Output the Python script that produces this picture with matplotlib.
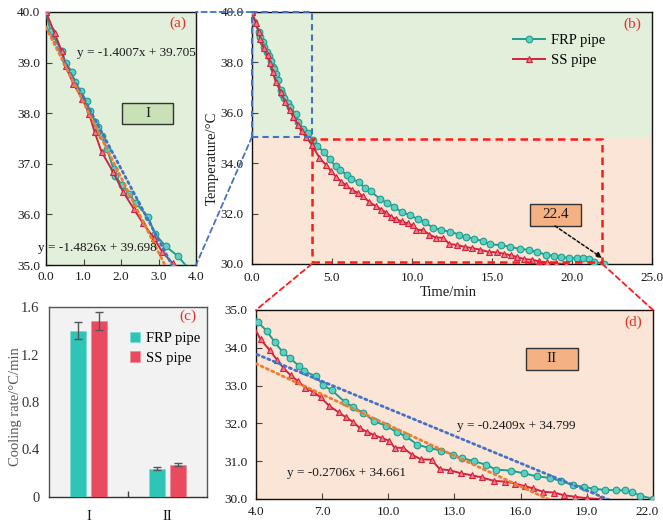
import matplotlib
matplotlib.use("Agg")
import matplotlib.pyplot as plt
from matplotlib.patches import Rectangle, ConnectionPatch
from matplotlib.transforms import ScaledTranslation
import numpy as np

plt.rcParams['font.family'] = ['Liberation Serif', 'DejaVu Serif']
plt.rcParams['mathtext.fontset'] = 'stix'

# ---------------- data ----------------
frp_time = [0.00, 0.12, 0.43, 0.52, 0.69, 0.76, 0.93, 1.08, 1.16, 1.31, 1.38, 1.49,
            1.62, 1.80, 1.85, 2.03, 2.22, 2.40, 2.73, 2.90, 3.19, 3.51, 3.80,
            4.09, 4.48, 4.85, 5.22, 5.53, 5.95, 6.18, 6.71, 7.04, 7.43, 8.02, 8.41,
            8.86, 9.35, 9.88, 10.38, 10.79, 11.31, 11.84, 12.40, 12.94, 13.35, 13.88,
            14.41, 14.87, 15.55, 16.15, 16.72, 17.33, 17.84, 18.37, 18.87, 19.32,
            19.81, 20.34, 20.71, 21.06, 21.39, 21.98]
frp_temp = [40.00, 39.62, 39.22, 38.99, 38.82, 38.62, 38.43, 38.24, 38.05, 37.83, 37.72, 37.55,
            37.30, 36.90, 36.75, 36.58, 36.40, 36.22, 35.94, 35.62, 35.37, 35.18, 34.93,
            34.68, 34.45, 34.15, 33.88, 33.73, 33.52, 33.38, 33.25, 33.01, 32.88, 32.57, 32.43,
            32.28, 32.06, 31.94, 31.77, 31.66, 31.44, 31.35, 31.28, 31.17, 31.08, 31.00,
            30.91, 30.78, 30.75, 30.68, 30.60, 30.56, 30.47, 30.37, 30.32, 30.27,
            30.24, 30.23, 30.23, 30.19, 30.09, 30.01]

ss_time = [0.00, 0.23, 0.42, 0.52, 0.73, 0.97, 1.15, 1.30, 1.48, 1.79, 2.06, 2.35,
           2.58, 2.88, 3.10, 3.38, 3.75,
           4.21, 4.63, 4.94, 5.24, 5.57, 5.90, 6.24, 6.60, 6.93, 7.31, 7.75, 8.08,
           8.40, 8.70, 9.02, 9.35, 9.72, 10.05, 10.28, 10.68, 11.08, 11.48, 11.96,
           12.33, 12.79, 13.29, 13.78, 14.23, 14.79, 15.29, 15.74, 16.19, 16.57,
           17.02, 17.51, 17.96, 18.46, 18.99, 19.60]
ss_temp = [40.00, 39.58, 39.22, 38.93, 38.58, 38.28, 37.99, 37.62, 37.24, 36.84, 36.44, 36.10,
           35.83, 35.53, 35.26, 35.03, 34.72,
           34.22, 33.93, 33.69, 33.47, 33.27, 33.12, 32.94, 32.83, 32.69, 32.47, 32.29, 32.16,
           32.04, 31.88, 31.78, 31.69, 31.61, 31.54, 31.36, 31.35, 31.17, 31.05, 31.04,
           30.79, 30.76, 30.68, 30.63, 30.57, 30.48, 30.46, 30.41, 30.34, 30.28,
           30.19, 30.17, 30.10, 30.06, 30.02, 30.00]

series_names = ["FRP pipe", "SS pipe"]
stage_labels = ["I", "II"]
rate_frp = [1.40, 0.239]
rate_frp_err = [0.072, 0.013]
rate_ss = [1.482, 0.272]
rate_ss_err = [0.075, 0.011]

fit_I_frp = (-1.4007, 39.705)
fit_I_ss = (-1.4826, 39.698)
fit_II_frp = (-0.2409, 34.799)
fit_II_ss = (-0.2706, 34.661)
end_time_label = "22.4"

# ---------------- style ----------------
FRP_LINE = '#1F9E8E'
FRP_MFC = '#5ED0C2'
SS_LINE = '#D2243C'
SS_MFC = '#EC7A88'
BAR_FRP = '#2EC4B6'
BAR_SS = '#E84A5F'
GREEN_BG = '#E2EFDA'
PEACH_BG = '#FBE5D6'
TREND_BLUE = '#4472C4'
TREND_ORANGE = '#ED7D31'
TXT = '#1a1a1a'
FS = 9.5

W, H = 663, 525
fig = plt.figure(figsize=(W / 100, H / 100), dpi=100)


def px_axes(l, t, r, b):
    return fig.add_axes([l / W, 1 - b / H, (r - l) / W, (b - t) / H])


def draw_series(ax, label=True):
    ax.plot(frp_time, frp_temp, color=FRP_LINE, lw=1.4, marker='o', ms=4.8,
            mfc=FRP_MFC, mec=FRP_LINE, mew=0.8, label=series_names[0] if label else None,
            zorder=3)
    ax.plot(ss_time, ss_temp, color=SS_LINE, lw=1.4, marker='^', ms=5.0,
            mfc=SS_MFC, mec=SS_LINE, mew=0.8, label=series_names[1] if label else None,
            zorder=4)


def trend(ax, coef, x0, x1, color):
    xs = np.array([x0, x1])
    ax.plot(xs, coef[0] * xs + coef[1], color=color, lw=2.0,
            linestyle=(0, (0.8, 1.3)), zorder=5, dash_capstyle='round')


def style_ticks(ax, padx=4, pady=5):
    ax.tick_params(axis='both', direction='in', length=4, width=0.8, colors='#444',
                   labelcolor=TXT, labelsize=FS)
    ax.tick_params(axis='y', pad=pady)
    ax.tick_params(axis='x', pad=padx)
    for s in ax.spines.values():
        s.set_color('#111')
        s.set_linewidth(1.0)


# ---------------- panel (a) ----------------
axa = px_axes(46, 12, 196, 265)
axa.set_facecolor(GREEN_BG)
draw_series(axa, label=False)
trend(axa, fit_I_frp, 0, 3.8, TREND_BLUE)
trend(axa, fit_I_ss, 0, 3.75, TREND_ORANGE)
axa.set_xlim(0, 4)
axa.set_ylim(35, 40)
axa.set_xticks(np.arange(0, 4.01, 1.0))
axa.set_yticks(np.arange(35, 40.01, 1.0))
axa.xaxis.set_major_formatter(matplotlib.ticker.FormatStrFormatter('%.1f'))
axa.yaxis.set_major_formatter(matplotlib.ticker.FormatStrFormatter('%.1f'))
style_ticks(axa, padx=4, pady=4)
axa.text(0.88, 0.957, '(a)', transform=axa.transAxes, color='#E8302A', fontsize=11,
         ha='center', va='center')
axa.text(0.207, 0.838, 'y = -1.4007x + 39.705', transform=axa.transAxes, fontsize=FS,
         ha='left', va='center', color=TXT, zorder=6)
axa.text(-0.053, 0.067, 'y = -1.4826x + 39.698', transform=axa.transAxes, fontsize=FS,
         ha='left', va='center', color=TXT, zorder=6, clip_on=False)
axa.add_patch(Rectangle((0.507, 0.557), 0.34, 0.083, transform=axa.transAxes,
                        facecolor='#C8E1B6', edgecolor='#333', lw=1.0, zorder=6))
axa.text(0.677, 0.598, stage_labels[0], transform=axa.transAxes, fontsize=11,
         ha='center', va='center', color=TXT, zorder=7)

# ---------------- panel (b) ----------------
axb = px_axes(252, 12, 652, 264)
axb.axhspan(35, 40, color=GREEN_BG, zorder=0, lw=0)
axb.axhspan(30, 35, color=PEACH_BG, zorder=0, lw=0)
draw_series(axb)
axb.set_xlim(0, 25)
axb.set_ylim(30, 40)
axb.set_xticks(np.arange(0, 25.01, 5.0))
axb.set_yticks(np.arange(30, 40.01, 2.0))
axb.xaxis.set_major_formatter(matplotlib.ticker.FormatStrFormatter('%.1f'))
axb.yaxis.set_major_formatter(matplotlib.ticker.FormatStrFormatter('%.1f'))
style_ticks(axb, padx=6, pady=6)
axb.set_xlabel('Time/min', fontsize=10.5, color=TXT)
axb.xaxis.set_label_coords(0.49, -0.088)
axb.set_ylabel('Temperature/°C', fontsize=10.5, color=TXT)
axb.yaxis.set_label_coords(-0.083, 0.42)
axb.text(0.95, 0.952, '(b)', transform=axb.transAxes, color='#E8302A', fontsize=11,
         ha='center', va='center')
axb.legend(loc='upper left', bbox_to_anchor=(0.6525, 0.915), frameon=False,
           fontsize=10.5, borderpad=0, borderaxespad=0, handlelength=2.2,
           handletextpad=0.4, labelspacing=0.5)
# zoom rectangles
axb.add_patch(Rectangle((0, 35.05), 3.73, 4.95, fill=False, edgecolor='#4472C4',
                        lw=1.5, linestyle=(0, (3, 2)), zorder=8, clip_on=False))
axb.add_patch(Rectangle((3.73, 30.08), 18.17, 4.89, fill=False, edgecolor='#FF1A1A',
                        lw=1.8, linestyle=(0, (3, 2)), zorder=8, clip_on=False))
# 22.4 label + arrow
axb.add_patch(Rectangle((0.695, 0.151), 0.1275, 0.087, transform=axb.transAxes,
                        facecolor='#F4B183', edgecolor='#333', lw=1.0, zorder=7))
axb.text(0.7588, 0.1945, end_time_label, transform=axb.transAxes, fontsize=11,
         ha='center', va='center', color=TXT, zorder=8)
axb.annotate('', xy=(21.88, 30.24), xytext=(18.94, 31.51), zorder=9,
             arrowprops=dict(arrowstyle='-|>', color='#111', lw=1.1, linestyle=(0, (2, 1.5)),
                             mutation_scale=8, shrinkA=0, shrinkB=0))

# ---------------- panel (c) ----------------
axc = px_axes(49, 307, 207, 497)
axc.set_facecolor('#F2F2F2')
xc = np.arange(len(stage_labels))
ekw = dict(ecolor='#555', elinewidth=1.0, capsize=3.2, capthick=1.0)
axc.bar(xc - 0.135, rate_frp, width=0.2, yerr=rate_frp_err, color=BAR_FRP,
        edgecolor='#7ADCD2', lw=0.5, error_kw=ekw, label=series_names[0], zorder=3)
axc.bar(xc + 0.135, rate_ss, width=0.2, yerr=rate_ss_err, color=BAR_SS,
        edgecolor='#F08A98', lw=0.5, error_kw=ekw, label=series_names[1], zorder=3)
axc.set_xlim(-0.5, 1.5)
axc.set_ylim(0, 1.6)
axc.set_yticks([0, 0.4, 0.8, 1.2, 1.6])
axc.set_yticklabels(['0', '0.4', '0.8', '1.2', '1.6'])
axc.set_xticks(xc)
axc.set_xticklabels(stage_labels)
axc.set_xticks([0.5], minor=True)
axc.tick_params(axis='x', which='major', length=0, pad=9, labelsize=10.5, labelcolor=TXT)
axc.tick_params(axis='x', which='minor', direction='in', length=4, width=1.0, color='#444')
axc.tick_params(axis='y', length=0, pad=7, labelsize=10.5, labelcolor='#333')
for s in axc.spines.values():
    s.set_color('#555')
    s.set_linewidth(1.0)
axc.spines['bottom'].set_color('#333')
axc.set_ylabel('Cooling rate/°C/min', fontsize=10.5, color='#555')
axc.yaxis.set_label_coords(-0.172, 0.474)
axc.text(0.88, 0.953, '(c)', transform=axc.transAxes, color='#E8302A', fontsize=11,
         ha='center', va='center')
axc.legend(loc='upper left', bbox_to_anchor=(0.513, 0.87), frameon=False,
           fontsize=10.5, borderpad=0, borderaxespad=0, handlelength=0.7,
           handleheight=0.7, handletextpad=0.4, labelspacing=0.45)

# ---------------- panel (d) ----------------
axd = px_axes(256, 310, 653, 499)
axd.set_facecolor(PEACH_BG)
draw_series(axd, label=False)
trend(axd, fit_II_frp, 3.8, 22.0, TREND_BLUE)
trend(axd, fit_II_ss, 3.75, 19.6, TREND_ORANGE)
axd.set_xlim(4, 22)
axd.set_ylim(30, 35)
axd.set_xticks(np.arange(4, 22.01, 3.0))
axd.set_yticks(np.arange(30, 35.01, 1.0))
axd.xaxis.set_major_formatter(matplotlib.ticker.FormatStrFormatter('%.1f'))
axd.yaxis.set_major_formatter(matplotlib.ticker.FormatStrFormatter('%.1f'))
style_ticks(axd, padx=5, pady=6)
axd.text(0.95, 0.937, '(d)', transform=axd.transAxes, color='#E8302A', fontsize=11,
         ha='center', va='center')
axd.text(0.506, 0.386, 'y = -0.2409x + 34.799', transform=axd.transAxes, fontsize=FS,
         ha='left', va='center', color=TXT, zorder=6)
axd.text(0.078, 0.138, 'y = -0.2706x + 34.661', transform=axd.transAxes, fontsize=FS,
         ha='left', va='center', color=TXT, zorder=6)
axd.add_patch(Rectangle((0.680, 0.683), 0.131, 0.116, transform=axd.transAxes,
                        facecolor='#F4B183', edgecolor='#333', lw=1.0, zorder=6))
axd.text(0.7455, 0.741, stage_labels[1], transform=axd.transAxes, fontsize=11,
         ha='center', va='center', color=TXT, zorder=7)

# ---------------- connectors ----------------
def connect(xyA, axA, xyB, axB, coordsB, color):
    cp = ConnectionPatch(xyA=xyA, coordsA=axA.transData, xyB=xyB, coordsB=coordsB,
                         color=color, lw=1.3, linestyle=(0, (3, 2)), zorder=10)
    fig.add_artist(cp)

connect((0, 40), axb, (1, 1), axa, axa.transAxes, '#4472C4')
connect((0, 35.05), axb, (1, 0), axa, axa.transAxes, '#4472C4')
connect((3.73, 30.0), axb, (0, 1), axd, axd.transAxes, '#FF1A1A')
connect((21.9, 30.0), axb, (1, 1), axd, axd.transAxes, '#FF1A1A')

# keep the last tick label of panel (d) inside the figure (as in the reference)
fig.canvas.draw()
last_lbl = axd.xaxis.get_major_ticks()[-1].label1
last_lbl.set_transform(last_lbl.get_transform() +
                       ScaledTranslation(-0.06, 0, fig.dpi_scale_trans))

fig.savefig('out.png', dpi=100)
